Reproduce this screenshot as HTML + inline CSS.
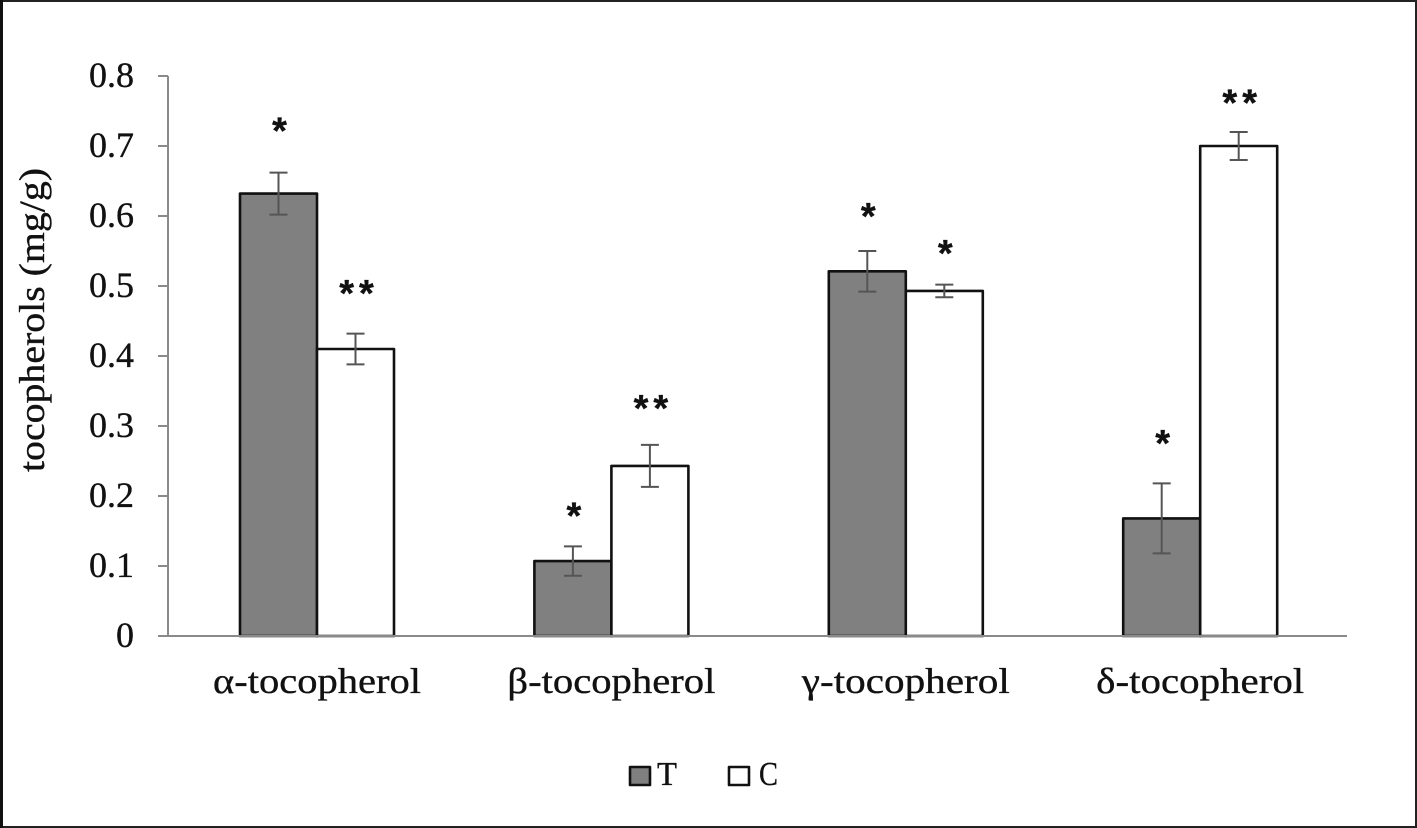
<!DOCTYPE html>
<html>
<head>
<meta charset="utf-8">
<style>
html,body{margin:0;padding:0;background:#fff;}
svg{display:block;}
text{font-family:"Liberation Serif","DejaVu Serif",serif;fill:#111;stroke:#111;stroke-width:0.35;}
</style>
</head>
<body>
<svg id="chart" width="1417" height="828" viewBox="0 0 1417 828" xmlns="http://www.w3.org/2000/svg">
<rect x="1" y="1" width="1415" height="826" fill="#fff" stroke="#222" stroke-width="2"/>
<rect x="0" y="0" width="3" height="828" fill="#111"/>
<g id="plot"></g>
</svg>
<script>
const categories = ['α-tocopherol','β-tocopherol','γ-tocopherol','δ-tocopherol'];
const seriesT = [0.632,0.107,0.521,0.168];
const seriesC = [0.41,0.243,0.493,0.70];
const errorT = [0.03,0.021,0.029,0.05];
const errorC = [0.022,0.03,0.009,0.02];
const marksT = ['*','*','*','*'];
const marksC = ['**','**','*','**'];
const markLevelT = [0.729,0.179,0.607,0.283];
const markLevelC = [0.497,0.333,0.554,0.769];
const yTicks = [0,0.1,0.2,0.3,0.4,0.5,0.6,0.7,0.8];
const yTickLabels = ['0','0.1','0.2','0.3','0.4','0.5','0.6','0.7','0.8'];

const NS='http://www.w3.org/2000/svg';
const plot=document.getElementById('plot');
const left=168,right=1347,baseY=636,topY=76;
function yScale(v){return baseY-(v/0.8)*(baseY-topY);}
function groupCenter(i){return 317+i*294.4;}
function add(tag,attrs,parent){
  const e=document.createElementNS(NS,tag);
  for(const k in attrs)e.setAttribute(k,attrs[k]);
  (parent||plot).appendChild(e);
  return e;
}
const barW=77;

yTicks.forEach((t,i)=>{
  const y=yScale(t);
  const tick=add('line',{x1:158,x2:left,y1:y,y2:y,stroke:'#8a8a8a','stroke-width':2});
  
  
  const label=add('text',{x:134,y:y+11,'text-anchor':'end','font-size':36});
  label.textContent=yTickLabels[i];
  
  
});

const yTitle=add('text',{transform:'translate(44,320) rotate(-90)','text-anchor':'middle','font-size':36,textLength:304,lengthAdjust:'spacingAndGlyphs'});
yTitle.textContent='tocopherols (mg/g)';



function drawBar(i,v,err,mark,level,x,fill,name){
  const y=yScale(v);
  const bar=add('rect',{x:x,y:y,width:barW,height:baseY-y,fill:fill,stroke:'#111','stroke-width':2.6,'stroke-linejoin':'round'});
  
  
  const cx=x+barW/2;
  const yHi=yScale(v+err),yLo=yScale(v-err);
  const eb=add('path',{d:`M${cx} ${yHi}V${yLo}M${cx-9} ${yHi}H${cx+9}M${cx-9} ${yLo}H${cx+9}`,fill:'none',stroke:'#555','stroke-width':2});
  
  
  const spacing=mark.length>1?5:0;
  const m=add('text',{x:cx+spacing/2+1,y:yScale(level)+18,'text-anchor':'middle','font-size':38,'letter-spacing':spacing,style:'font-family:"Liberation Sans",sans-serif;font-weight:bold'});
  m.textContent=mark;
  
  
}

categories.forEach((c,i)=>{
  const cx=groupCenter(i);
  drawBar(i,seriesT[i],errorT[i],marksT[i],markLevelT[i],cx-barW,'#808080','t-'+i);
  drawBar(i,seriesC[i],errorC[i],marksC[i],markLevelC[i],cx,'#ffffff','c-'+i);
  const label=add('text',{x:cx,y:693,'text-anchor':'middle','font-size':36,textLength:208,lengthAdjust:'spacingAndGlyphs'});
  label.textContent=c;
  
  
});

const yAxis=add('line',{x1:left,x2:left,y1:topY,y2:baseY,stroke:'#8a8a8a','stroke-width':2});


const xAxis=add('line',{x1:left,x2:right,y1:baseY,y2:baseY,stroke:'#8a8a8a','stroke-width':2});



const swT=add('rect',{x:630,y:767,width:20,height:18,fill:'#808080',stroke:'#111','stroke-width':2.6,'stroke-linejoin':'round'});


const lgT=add('text',{x:657,y:785,'font-size':34,textLength:20,lengthAdjust:'spacingAndGlyphs'});
lgT.textContent='T';


const swC=add('rect',{x:729,y:767,width:20,height:18,fill:'#fff',stroke:'#111','stroke-width':2.6,'stroke-linejoin':'round'});


const lgC=add('text',{x:759,y:785,'font-size':34,textLength:19,lengthAdjust:'spacingAndGlyphs'});
lgC.textContent='C';


</script>
</body>
</html>
